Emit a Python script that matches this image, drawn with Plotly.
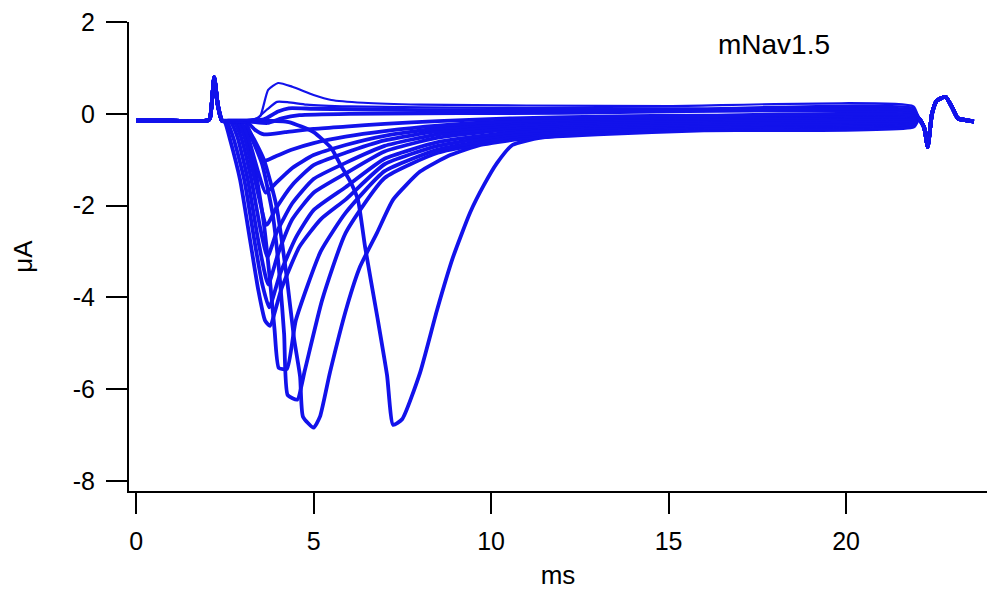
import plotly.graph_objects as go

# Shared holding segment before the step (capacitive transient near 2.2 ms)
BASE_T = [0.0, 1.0, 2.0, 2.08, 2.2, 2.3, 2.42]
BASE_I = [-0.15, -0.15, -0.15, -0.1, 0.8, 0.2, -0.15]

# Shared return segment after the step (tail transient near 22.3 ms)
TAIL_T = [22.05, 22.2, 22.3, 22.42, 22.55, 22.8, 23.0, 23.15, 23.45, 23.6]
TAIL_I = [-0.1, -0.3, -0.72, 0.0, 0.28, 0.37, 0.12, -0.1, -0.15, -0.17]

# Individual sweeps (ms, uA), ordered from the slowest inward current to outward
sweep_01_t = [2.6, 3.5, 4.3, 5.0, 5.5, 5.75, 6.05, 6.25, 6.45, 6.8, 7.07, 7.24, 7.5, 8.0, 8.48,
              8.93, 9.41, 9.8, 10.17, 10.6, 11.4, 13.1, 15.9, 18.7, 21.9]
sweep_01_i = [-0.15, -0.15, -0.18, -0.4, -0.75, -1.1, -1.5, -1.88, -2.9, -4.45, -5.7, -6.78, -6.65, -5.64, -4.27,
              -3.12, -2.15, -1.55, -1.07, -0.68, -0.52, -0.4, -0.32, -0.28, -0.26]

sweep_02_t = [2.8, 3.2, 3.6, 3.95, 4.25, 4.45, 4.62, 4.7, 5.0, 5.18, 5.46, 5.94, 6.31, 6.79,
              7.24, 8.0, 8.85, 9.7, 10.8, 13.0, 16.0, 21.9]
sweep_02_i = [-0.17, -0.4, -1.0, -2.0, -3.6, -4.9, -5.73, -6.6, -6.84, -6.6, -5.64, -4.2, -3.33, -2.59,
              -1.87, -1.26, -0.9, -0.68, -0.55, -0.45, -0.36, -0.28]

sweep_03_t = [2.85, 3.2, 3.55, 3.85, 4.05, 4.17, 4.27, 4.54, 4.75, 5.24, 5.9, 7.0, 8.5, 10.6, 13.0, 16.0, 21.9]
sweep_03_i = [-0.17, -0.45, -1.1, -2.2, -3.6, -4.8, -6.13, -6.23, -5.6, -4.06, -2.6, -1.4, -0.85, -0.55, -0.42, -0.33, -0.25]

sweep_04_t = [2.75, 3.05, 3.35, 3.6, 3.78, 3.9, 4.02, 4.25, 4.5, 5.2, 5.9, 7.0, 8.5, 10.6, 13.0, 16.0, 21.9]
sweep_04_i = [-0.17, -0.45, -1.2, -2.4, -3.7, -4.7, -5.54, -5.56, -4.5, -3.0, -2.16, -1.25, -0.78, -0.5, -0.38, -0.3, -0.22]

sweep_05_t = [2.5, 2.65, 2.93, 3.21, 3.44, 3.63, 3.77, 4.1, 4.6, 5.2, 5.9, 7.0, 8.5, 10.6, 13.0, 16.0, 21.9]
sweep_05_i = [-0.18, -0.57, -1.44, -2.75, -3.83, -4.5, -4.62, -3.8, -2.9, -2.3, -1.87, -1.1, -0.7, -0.45, -0.35, -0.28, -0.2]

sweep_06_t = [2.55, 2.75, 3.05, 3.33, 3.55, 3.75, 4.05, 4.5, 5.0, 5.9, 7.0, 8.5, 10.6, 13.0, 16.0, 21.9]
sweep_06_i = [-0.17, -0.55, -1.45, -2.75, -3.7, -4.22, -3.5, -2.7, -2.1, -1.6, -0.98, -0.62, -0.4, -0.3, -0.25, -0.18]

sweep_07_t = [2.65, 2.85, 3.15, 3.45, 3.72, 4.0, 4.4, 5.0, 5.9, 7.0, 8.5, 10.6, 13.0, 16.0, 21.9]
sweep_07_i = [-0.17, -0.5, -1.45, -2.8, -3.72, -3.05, -2.3, -1.72, -1.3, -0.82, -0.52, -0.34, -0.26, -0.22, -0.16]

sweep_08_t = [2.75, 2.95, 3.25, 3.5, 3.7, 3.95, 4.4, 5.0, 5.9, 7.0, 8.5, 10.6, 13.0, 16.0, 21.9]
sweep_08_i = [-0.17, -0.5, -1.45, -2.5, -3.12, -2.6, -1.95, -1.42, -1.07, -0.7, -0.45, -0.3, -0.22, -0.18, -0.13]

sweep_09_t = [2.85, 3.05, 3.35, 3.68, 3.95, 4.4, 5.0, 5.9, 7.0, 8.5, 10.6, 13.0, 16.0, 21.9]
sweep_09_i = [-0.17, -0.5, -1.45, -2.42, -2.05, -1.55, -1.12, -0.85, -0.58, -0.38, -0.25, -0.18, -0.14, -0.1]

sweep_10_t = [2.95, 3.15, 3.45, 3.65, 3.95, 4.4, 5.0, 5.9, 7.0, 8.5, 10.6, 13.0, 16.0, 21.9]
sweep_10_i = [-0.17, -0.5, -1.3, -1.72, -1.5, -1.18, -0.9, -0.68, -0.48, -0.32, -0.2, -0.14, -0.1, -0.07]

sweep_11_t = [3.05, 3.3, 3.62, 3.95, 4.4, 5.0, 5.9, 7.0, 8.5, 10.6, 13.0, 16.0, 21.9]
sweep_11_i = [-0.17, -0.55, -1.02, -0.92, -0.78, -0.64, -0.5, -0.38, -0.26, -0.16, -0.1, -0.07, -0.04]

sweep_12_t = [3.1, 3.35, 3.6, 4.2, 5.0, 5.9, 7.0, 8.5, 10.6, 13.0, 16.0, 21.9]
sweep_12_i = [-0.17, -0.35, -0.45, -0.4, -0.33, -0.28, -0.22, -0.16, -0.1, -0.06, -0.04, -0.02]

sweep_13_t = [2.45, 3.2, 3.7, 4.1, 4.6, 6.0, 12.0, 21.9]
sweep_13_i = [-0.15, -0.17, -0.2, -0.1, -0.03, 0.0, 0.02, 0.03]

sweep_14_t = [2.45, 3.1, 3.6, 4.0, 4.3, 5.0, 8.0, 15.0, 21.9]
sweep_14_i = [-0.15, -0.15, -0.12, 0.05, 0.12, 0.11, 0.08, 0.07, 0.07]

sweep_15_t = [2.45, 3.0, 3.4, 3.7, 3.97, 4.3, 4.8, 6.0, 10.0, 16.0, 21.9]
sweep_15_i = [-0.15, -0.15, -0.1, 0.1, 0.26, 0.25, 0.2, 0.16, 0.13, 0.12, 0.12]

sweep_16_t = [2.45, 3.0, 3.35, 3.5, 3.72, 4.0, 4.4, 5.0, 5.5, 6.4, 8.0, 11.0, 15.0, 21.9]
sweep_16_i = [-0.15, -0.15, -0.12, -0.05, 0.52, 0.67, 0.59, 0.41, 0.3, 0.24, 0.2, 0.18, 0.17, 0.16]

SWEEPS = [
    (sweep_01_t, sweep_01_i), (sweep_02_t, sweep_02_i), (sweep_03_t, sweep_03_i),
    (sweep_04_t, sweep_04_i), (sweep_05_t, sweep_05_i), (sweep_06_t, sweep_06_i),
    (sweep_07_t, sweep_07_i), (sweep_08_t, sweep_08_i), (sweep_09_t, sweep_09_i),
    (sweep_10_t, sweep_10_i), (sweep_11_t, sweep_11_i), (sweep_12_t, sweep_12_i),
    (sweep_13_t, sweep_13_i), (sweep_14_t, sweep_14_i), (sweep_15_t, sweep_15_i),
    (sweep_16_t, sweep_16_i),
]
THIN_SWEEPS = {14, 15}

TRACE_COLOR = "rgb(18,18,235)"
FONT = "Liberation Sans, Arial, sans-serif"

fig = go.Figure()
for k, (ts, cur) in enumerate(SWEEPS):
    fig.add_trace(go.Scatter(
        x=BASE_T + ts + TAIL_T,
        y=BASE_I + cur + TAIL_I,
        mode="lines",
        line=dict(color=TRACE_COLOR, width=2.2 if k in THIN_SWEEPS else 3.8,
                  shape="spline", smoothing=0.5),
        hoverinfo="skip",
        showlegend=False,
    ))

fig.add_annotation(
    x=0.819, y=0.951, xref="paper", yref="paper",
    text="mNav1.5", showarrow=False, xanchor="right", yanchor="middle",
    font=dict(family=FONT, size=28, color="black"),
)

axis_common = dict(
    showgrid=False, zeroline=False, showline=True, linecolor="black", linewidth=2,
    ticks="outside", ticklen=21, tickwidth=2, tickcolor="black",
    tickfont=dict(family=FONT, size=25, color="black"),
    title_font=dict(family=FONT, size=26, color="black"),
)

fig.update_xaxes(
    range=[-0.2, 23.97], tickmode="array", tickvals=[0, 5, 10, 15, 20],
    title_text="ms", title_standoff=12, ticklabelstandoff=6, **axis_common,
)
fig.update_yaxes(
    range=[-8.22, 2], tickmode="array", tickvals=[2, 0, -2, -4, -6, -8],
    ticktext=["2", "0", "-2", "-4", "-6", "-8"],
    title_text="μA", title_standoff=33, ticklabelstandoff=6, **axis_common,
)

fig.update_layout(
    width=987, height=592,
    margin=dict(l=129, r=0, t=22, b=101),
    plot_bgcolor="white", paper_bgcolor="white",
)

fig.write_html("out.html")
